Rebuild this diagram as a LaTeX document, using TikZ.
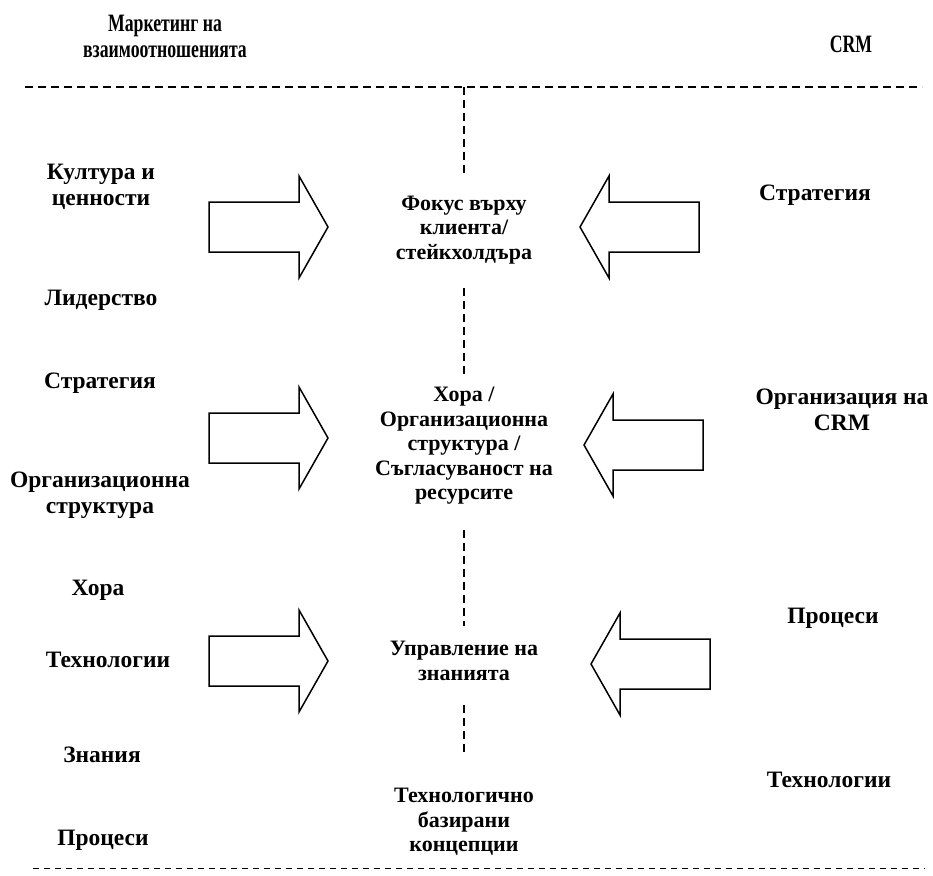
\documentclass[tikz,border=0pt]{standalone}
\usepackage{fontspec}
\setmainfont{Liberation Serif}
\tikzset{
  lbl/.style={font=\bfseries\fontsize{23.5}{26}\selectfont, align=center, inner sep=0pt},
  clbl/.style={font=\bfseries\fontsize{22}{24.5}\selectfont, align=center, inner sep=0pt},
  hdr/.style={font=\bfseries\fontsize{25}{26}\selectfont, align=center, inner sep=0pt, xscale=0.71, transform shape},
  thickdash/.style={line width=2.8pt, dash pattern=on 8pt off 5pt},
  thindash/.style={line width=1pt, dash pattern=on 6pt off 5pt},
  blockarrow/.pic={
    \draw[line width=1.5pt, fill=white, line join=miter]
      (0,-25) -- (90,-25) -- (90,-51) -- (119,0) -- (90,51) -- (90,25) -- (0,25) -- cycle;
  }
}
\begin{document}
\begin{tikzpicture}[x=1pt,y=-1pt]
\useasboundingbox (0,0) rectangle (933,875);

% header
\node[hdr] (mkt) at (165,36) {Маркетинг на\\взаимоотношенията};
\node[hdr] (crm) at (851,44) {CRM};

% horizontal dashed lines
\coordinate (tl) at (25,87);
\coordinate (tr) at (922,87);
\coordinate (bl) at (33,868);
\coordinate (br) at (925,868);
\draw[thickdash] (tl) -- (tr);
\draw[thindash] (bl) -- (br);

% centre column
\node[clbl] (c1) at (464,230) {Фокус върху\\клиента/\\стейкхолдъра};
\node[clbl] (c2) at (464,446) {Хора /\\Организационна\\структура /\\Съгласуваност на\\ресурсите};
\node[clbl] (c3) at (464,661) {Управление на\\знанията};
\node[clbl] (c4) at (464,822) {Технологично\\базирани\\концепции};

% vertical dashed segments
\coordinate (v1a) at (464,87);  \coordinate (v1b) at (464,173);
\coordinate (v2a) at (464,288); \coordinate (v2b) at (464,375);
\coordinate (v3a) at (464,530); \coordinate (v3b) at (464,626);
\coordinate (v4a) at (464,705); \coordinate (v4b) at (464,752);
\draw[thickdash] (v1a) -- (v1b);
\draw[thickdash] (v2a) -- (v2b);
\draw[thickdash] (v3a) -- (v3b);
\draw[thickdash] (v4a) -- (v4b);

% left column
\node[lbl] (l1) at (101,187) {Култура и\\ценности};
\node[lbl] (l2) at (101,300) {Лидерство};
\node[lbl] (l3) at (100,383) {Стратегия};
\node[lbl] (l4) at (100,495) {Организационна\\структура};
\node[lbl] (l5) at (98,590) {Хора};
\node[lbl] (l6) at (108,660) {Технологии};
\node[lbl] (l7) at (102,755) {Знания};
\node[lbl] (l8) at (103,840) {Процеси};

% right column
\node[lbl] (r1) at (815,195) {Стратегия};
\node[lbl] (r2) at (842,410) {Организация на\\CRM};
\node[lbl] (r3) at (833,618) {Процеси};
\node[lbl] (r4) at (829,780) {Технологии};

% block arrows (left, pointing right)
\pic at (209,227) {blockarrow};
\pic at (209,438) {blockarrow};
\pic at (209,661) {blockarrow};
% block arrows (right, pointing left)
\pic[xscale=-1] at (699,227) {blockarrow};
\pic[xscale=-1] at (703,445) {blockarrow};
\pic[xscale=-1] at (710,664) {blockarrow};
\end{tikzpicture}
\end{document}
